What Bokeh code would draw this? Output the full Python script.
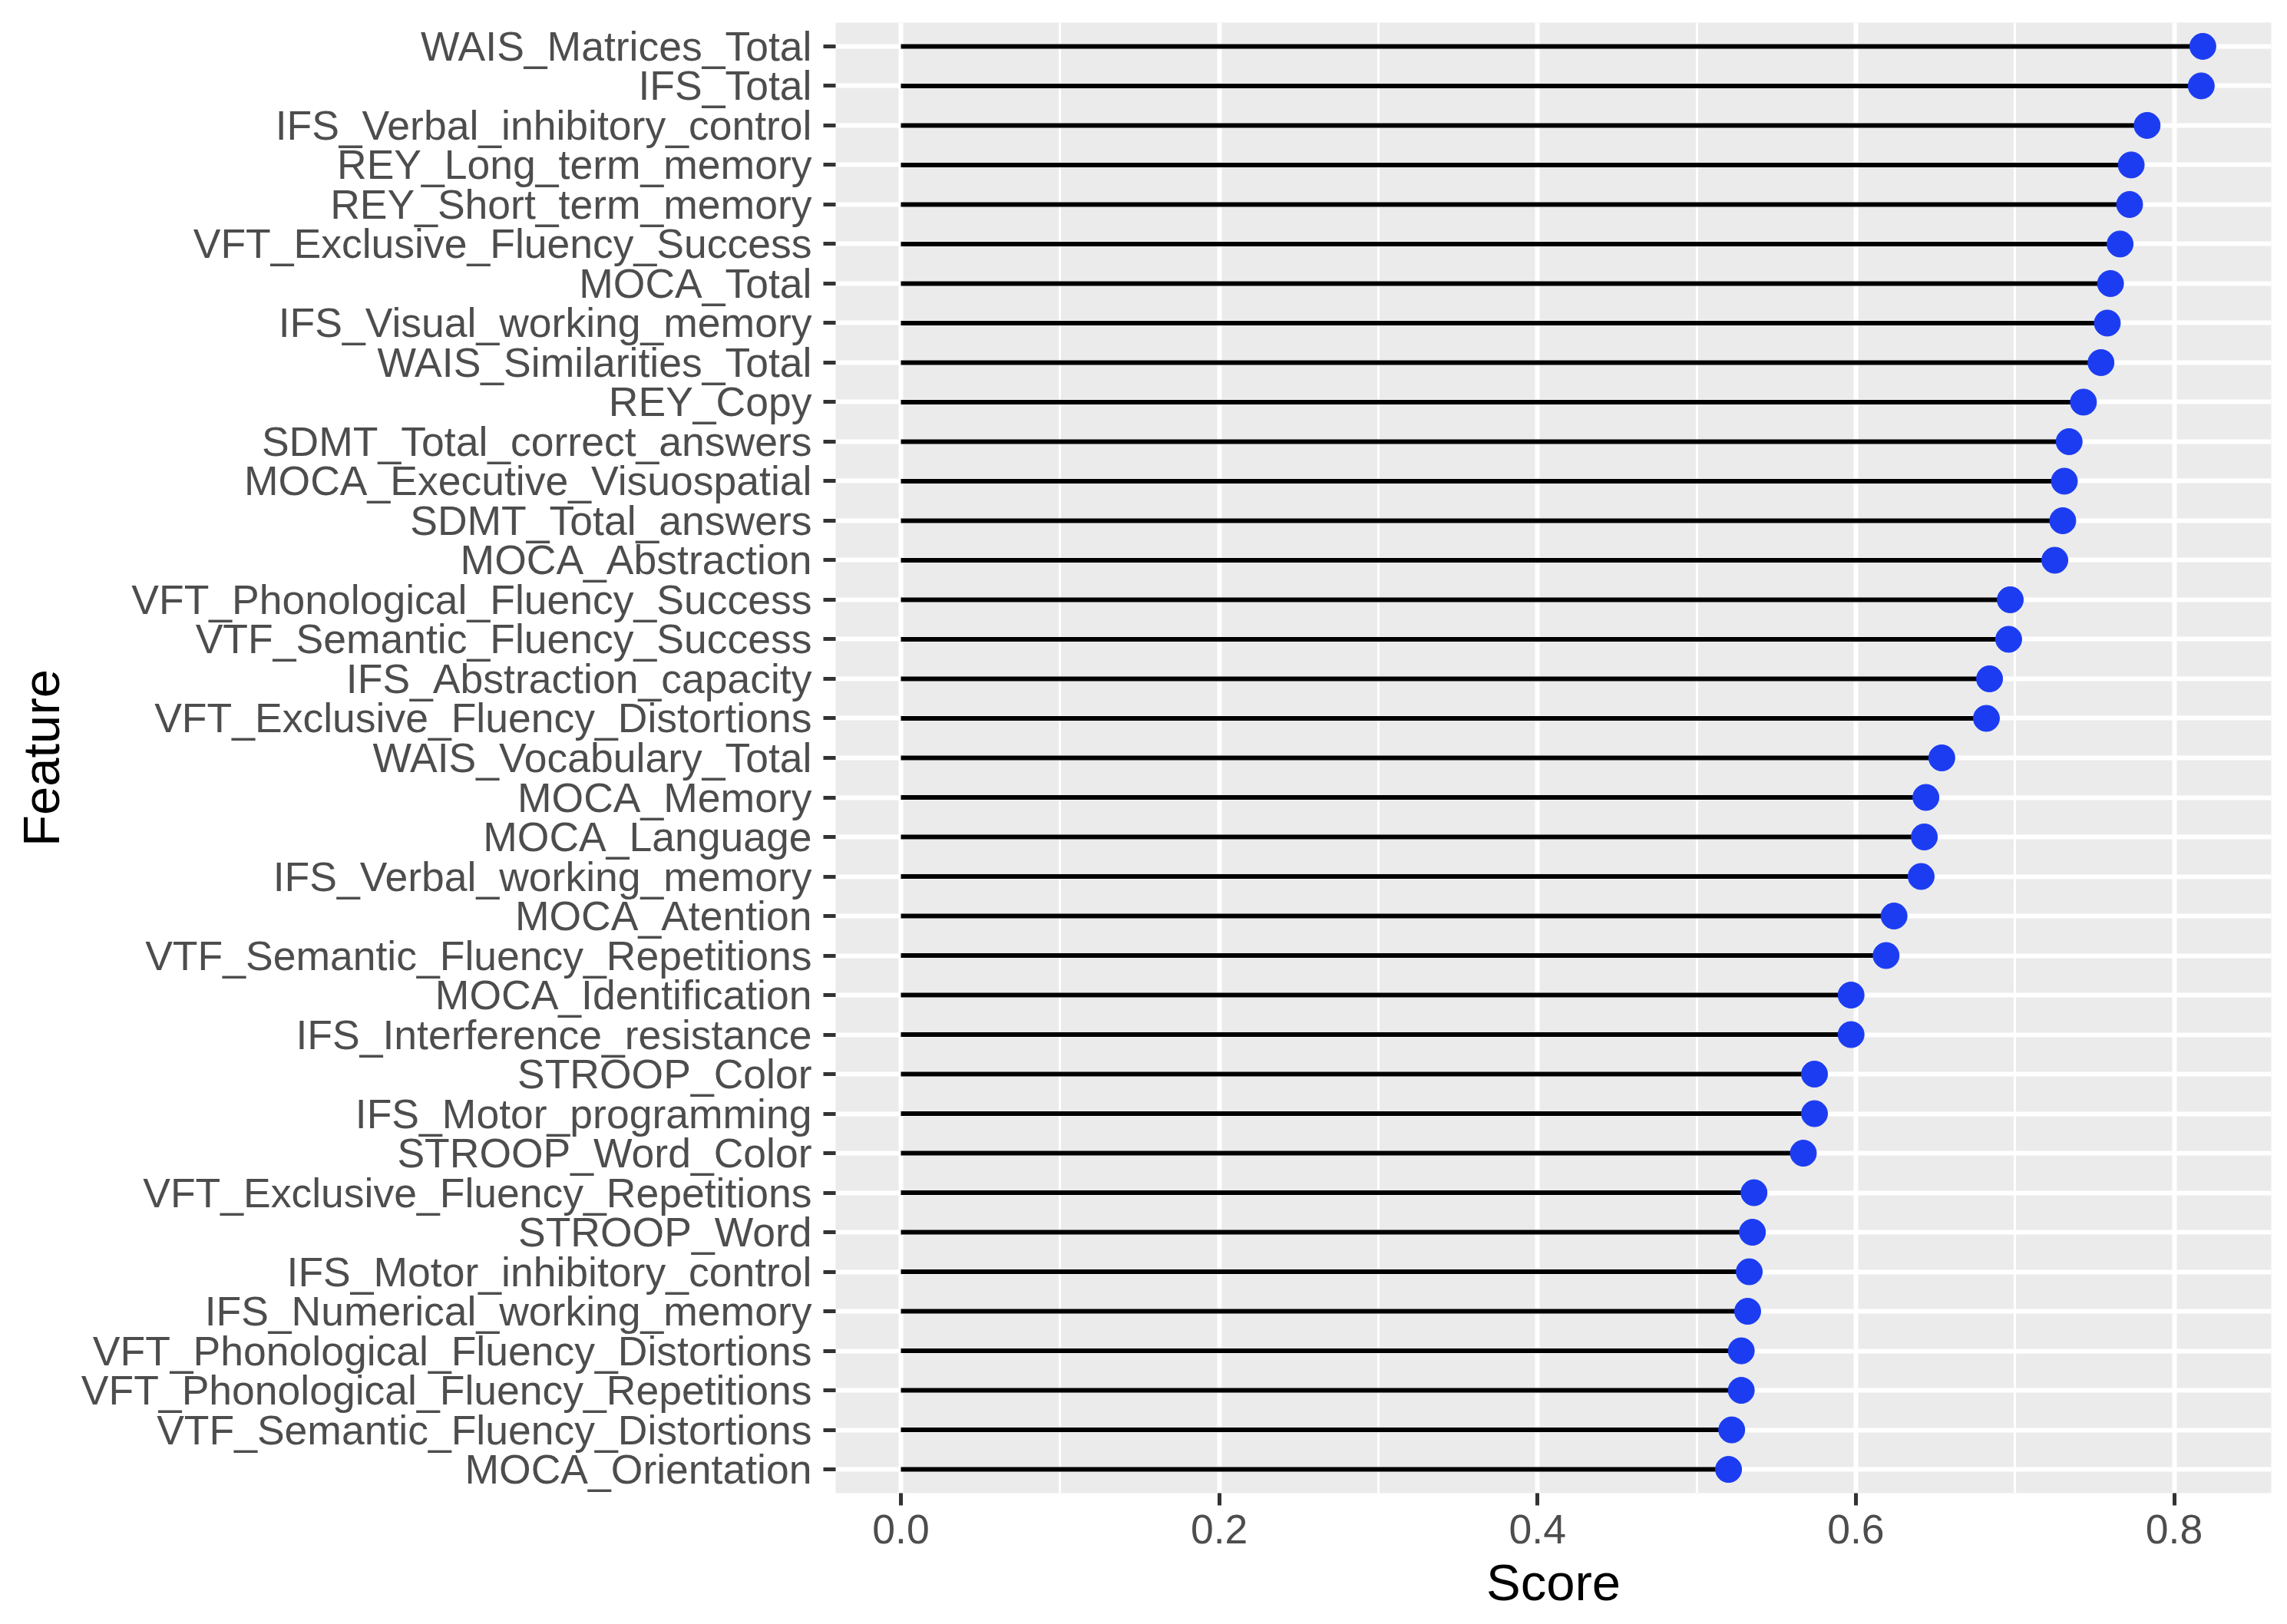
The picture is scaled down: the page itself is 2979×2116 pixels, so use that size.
from bokeh.plotting import figure
from bokeh.models import FactorRange, Range1d, FixedTicker, NumeralTickFormatter, ColumnDataSource
from bokeh.embed import file_html
from bokeh.resources import INLINE

features = [
    "WAIS_Matrices_Total", "IFS_Total", "IFS_Verbal_inhibitory_control",
    "REY_Long_term_memory", "REY_Short_term_memory", "VFT_Exclusive_Fluency_Success",
    "MOCA_Total", "IFS_Visual_working_memory", "WAIS_Similarities_Total", "REY_Copy",
    "SDMT_Total_correct_answers", "MOCA_Executive_Visuospatial", "SDMT_Total_answers",
    "MOCA_Abstraction", "VFT_Phonological_Fluency_Success", "VTF_Semantic_Fluency_Success",
    "IFS_Abstraction_capacity", "VFT_Exclusive_Fluency_Distortions", "WAIS_Vocabulary_Total",
    "MOCA_Memory", "MOCA_Language", "IFS_Verbal_working_memory", "MOCA_Atention",
    "VTF_Semantic_Fluency_Repetitions", "MOCA_Identification", "IFS_Interference_resistance",
    "STROOP_Color", "IFS_Motor_programming", "STROOP_Word_Color",
    "VFT_Exclusive_Fluency_Repetitions", "STROOP_Word", "IFS_Motor_inhibitory_control",
    "IFS_Numerical_working_memory", "VFT_Phonological_Fluency_Distortions",
    "VFT_Phonological_Fluency_Repetitions", "VTF_Semantic_Fluency_Distortions",
    "MOCA_Orientation",
]
scores = [
    0.818, 0.817, 0.783, 0.773, 0.772, 0.766, 0.760, 0.758, 0.754, 0.743,
    0.734, 0.731, 0.730, 0.725, 0.697, 0.696, 0.684, 0.682, 0.654, 0.644,
    0.643, 0.641, 0.624, 0.619, 0.597, 0.597, 0.574, 0.574, 0.567, 0.536,
    0.535, 0.533, 0.532, 0.528, 0.528, 0.522, 0.520,
]
x_ticks = [0.0, 0.2, 0.4, 0.6, 0.8]
x_minor = [0.1, 0.3, 0.5, 0.7]

src = ColumnDataSource(dict(feature=features, score=scores, zero=[0.0] * len(scores)))

FONT = "Liberation Sans"

p = figure(
    width=2963, height=2108,
    y_range=FactorRange(factors=list(reversed(features)), range_padding=0.1,
                        range_padding_units="absolute"),
    x_range=Range1d(-0.041, 0.861),
    output_backend="svg", toolbar_location=None,
    min_border_left=1088, min_border_right=5, min_border_top=29, min_border_bottom=163,
)
p.background_fill_color = "#EBEBEB"
p.border_fill_color = "white"
p.outline_line_color = None

p.segment(x0="zero", y0="feature", x1="score", y1="feature", source=src,
          line_color="black", line_width=6)
p.scatter(x="score", y="feature", source=src, size=34, fill_color="#1c3cf2",
          line_color="#1c3cf2", line_width=1)

# grids
p.xgrid.ticker = FixedTicker(ticks=x_ticks, minor_ticks=x_minor)
p.xgrid.grid_line_color = "white"
p.xgrid.grid_line_width = 6
p.xgrid.minor_grid_line_color = "white"
p.xgrid.minor_grid_line_width = 3
p.ygrid.grid_line_color = "white"
p.ygrid.grid_line_width = 6

# x axis
xa = p.xaxis[0]
xa.ticker = FixedTicker(ticks=x_ticks, minor_ticks=x_minor)
xa.formatter = NumeralTickFormatter(format="0.0")
xa.axis_label = "Score"
xa.axis_line_color = None
xa.major_tick_line_color = "#333333"
xa.major_tick_line_width = 5
xa.major_tick_out = 16
xa.major_tick_in = 0
xa.minor_tick_line_color = None
xa.major_label_standoff = 12
xa.major_label_text_font = FONT
xa.major_label_text_font_size = "53.5px"
xa.major_label_text_color = "#4D4D4D"
xa.axis_label_text_font = FONT
xa.axis_label_text_font_size = "67px"
xa.axis_label_text_font_style = "normal"
xa.axis_label_text_color = "black"
xa.axis_label_standoff = 10

# y axis
ya = p.yaxis[0]
ya.axis_label = "Feature"
ya.axis_line_color = None
ya.major_tick_line_color = "#333333"
ya.major_tick_line_width = 5
ya.major_tick_out = 16
ya.major_tick_in = 0
ya.minor_tick_line_color = None
ya.major_label_standoff = 15
ya.major_label_text_font = FONT
ya.major_label_text_font_size = "53.5px"
ya.major_label_text_color = "#4D4D4D"
ya.axis_label_text_font = FONT
ya.axis_label_text_font_size = "67px"
ya.axis_label_text_font_style = "normal"
ya.axis_label_text_color = "black"
ya.axis_label_standoff = 12

open("out.html", "w").write(file_html(p, INLINE))
